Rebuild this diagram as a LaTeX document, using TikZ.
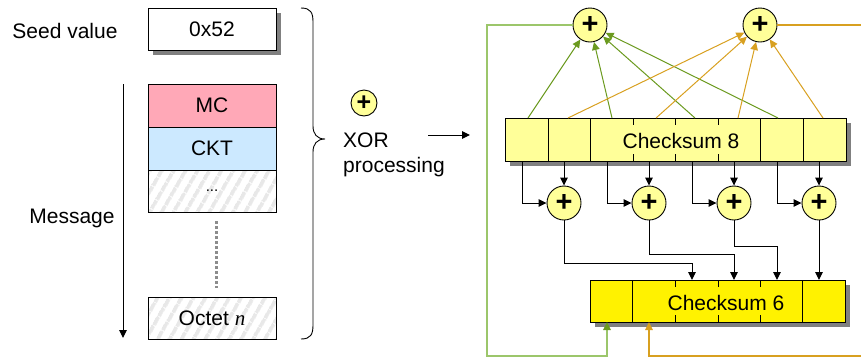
\documentclass[tikz,border=0pt]{standalone}
\usepackage{fontspec}
\setmainfont{Liberation Sans}
\newfontfamily\serifit{Liberation Serif}
\usetikzlibrary{arrows.meta,patterns.meta,shadows}
\definecolor{yel}{HTML}{FFFF99}
\definecolor{mcpink}{HTML}{FFA8B7}
\definecolor{cktblue}{HTML}{CCE9FF}
\definecolor{greenA}{HTML}{6B9A1F}
\definecolor{greenL}{HTML}{9CC66B}
\definecolor{orangeA}{HTML}{D8A020}
\newcommand\myfs{\fontsize{21bp}{25bp}\selectfont}
\newcommand\myfsb{\fontsize{29bp}{30bp}\selectfont\bfseries}
\newcommand\myfsbs{\fontsize{25bp}{26bp}\selectfont\bfseries}
\begin{document}
\begin{tikzpicture}[x=1bp,y=-1bp,
  >={Triangle[length=8bp,width=7.5bp]},
  txt/.style={font=\myfs, inner sep=0},
  box/.style={draw, line width=0.9bp, minimum width=128bp, minimum height=42bp, inner sep=0, font=\myfs},
  shad/.style={drop shadow={shadow xshift=5bp,shadow yshift=-5bp,fill=black!50,opacity=1}},
  hatch/.style={pattern={Lines[angle=60,distance=10bp,line width=4bp]},pattern color=black!9},
  xor/.style={circle, draw, line width=0.9bp, fill=yel, minimum size=34bp, inner sep=0, font=\myfsb},
  conn/.style={line width=1bp},
  cell/.style={line width=0.9bp}]
\useasboundingbox (0,0) rectangle (861,358);
\clip (0,0) rectangle (861,358);
% ---------- left part ----------
\node[txt] (seedlbl) at (65,31) {Seed value};
\node[box, shad, fill=white] (seed) at (212,29) {0x52};
\node[box, fill=mcpink, minimum height=43bp] (mc) at (212,105.5) {MC};
\node[box, fill=cktblue, minimum height=43bp] (ckt) at (212,148.5) {CKT};
\node[box, hatch, font=\fontsize{15bp}{18bp}\selectfont] (dots) at (212,191) {...};
\node[box, hatch] (oct) at (212,318) {Octet {\serifit\itshape n}};
\coordinate (d1) at (216,221);
\coordinate (d2) at (216,288);
\draw[black!45, line width=3bp, dash pattern=on 3bp off 2bp] (d1) -- (d2);
\coordinate (m1) at (123,84);
\coordinate (m2) at (123,338);
\draw[conn,->] (m1) -- (m2);
\node[txt] (msg) at (72,218) {Message};
\draw[line width=0.9bp] (301,8) .. controls (311,8) and (313,13) .. (313,22) -- (313,126)
  .. controls (313,134) and (317,139) .. (325,139)
  .. controls (317,139) and (313,144) .. (313,152) -- (313,325)
  .. controls (313,334) and (311,339) .. (301,339);
\node[xor, minimum size=26bp, font=\myfsbs] (lx) at (364,103) {+};
\node[txt, align=left, anchor=west] (xorlbl) at (343,154.5) {XOR\\processing};
\coordinate (a1) at (428,135);
\coordinate (a2) at (470,135);
\draw[conn,->] (a1) -- (a2);
% ---------- right part ----------
\node[draw, line width=0.9bp, fill=yel, shad, minimum width=341bp, minimum height=43bp, inner sep=0] (c8) at (675.5,139.5) {};
\foreach \x in {548,590,760,803} \draw[cell] (\x,118) -- (\x,161);
\foreach \x in {633,675,718} {\draw[cell] (\x,118) -- (\x,125); \draw[cell] (\x,154) -- (\x,161);}
\node[txt] (c8t) at (681,141) {Checksum 8};
\node[draw, line width=0.9bp, fill=yellow, shad, minimum width=255bp, minimum height=42bp, inner sep=0] (c6) at (717.5,301) {};
\foreach \x in {632,802} \draw[cell] (\x,280) -- (\x,322);
\foreach \x in {675,718,760} {\draw[cell] (\x,280) -- (\x,287); \draw[cell] (\x,315) -- (\x,322);}
\node[txt] (c6t) at (726,303) {Checksum 6};
% top XORs
\node[xor] (t1) at (590,25) {+};
\node[xor] (t2) at (760,25) {+};
\foreach \x [count=\i] in {528,568,612,656,695,738,778,823} \coordinate (u\i) at (\x,118);
\foreach \i in {1,3,5,7} \draw[conn, greenA, ->] (u\i) -- (t1);
\foreach \i in {2,4,6,8} \draw[conn, orangeA, ->] (u\i) -- (t2);
% lower XORs
\foreach \x [count=\i] in {564,649,734,819} {
  \node[xor] (b\i) at (\x,203) {+};
  \coordinate (v\i) at (\x,161);
  \draw[conn,->] (v\i) -- (b\i);
}
\foreach \x [count=\i] in {522,607,692,777} {
  \coordinate (e\i) at (\x,161);
  \draw[conn,->] (e\i) |- (b\i.west);
}
\foreach \x [count=\i] in {692,734,777,819} \coordinate (w\i) at (\x,280);
\draw[conn,->] (b1.south) -- ++(0,43) -| (w1);
\draw[conn,->] (b2.south) -- ++(0,34) -| (w2);
\draw[conn,->] (b3.south) -- ++(0,26) -| (w3);
\draw[conn,->] (b4.south) -- (w4);
% feedback lines
\coordinate (g1) at (487,356);
\coordinate (f1) at (607,322);
\draw[line width=1.3bp, greenL, -{Triangle[length=8bp,width=7.5bp,color=greenA]}] (t1.west) -| (g1) -| (f1);
\coordinate (g2) at (872,356);
\coordinate (f2) at (649,322);
\draw[line width=1.3bp, orangeA, ->] (t2.east) -| (g2) -| (f2);
\end{tikzpicture}
\end{document}
